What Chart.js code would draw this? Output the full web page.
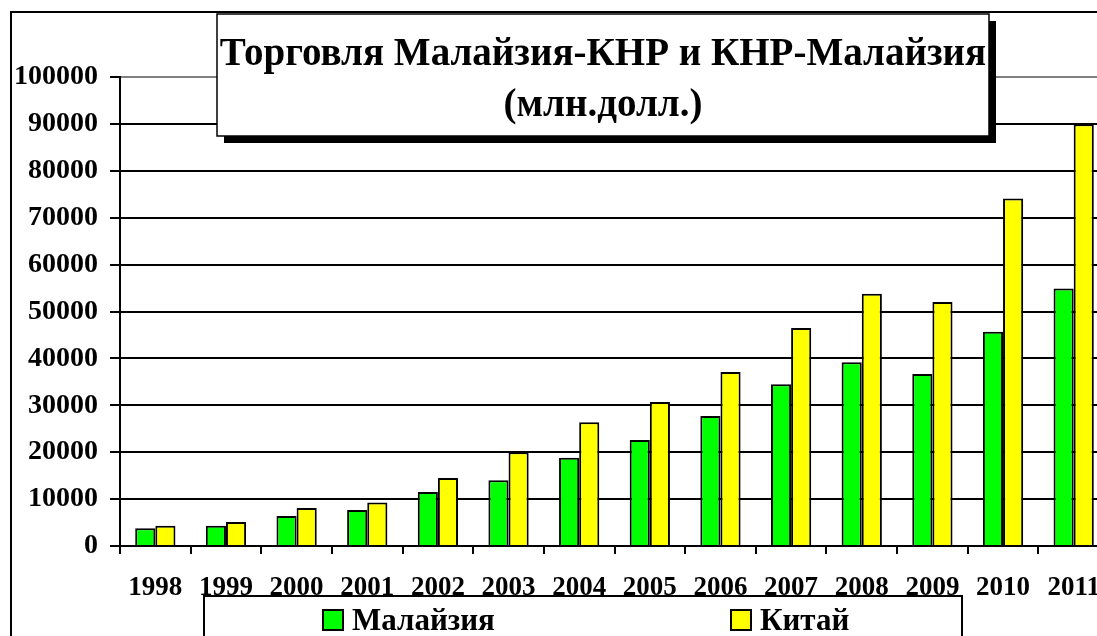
<!DOCTYPE html>
<html>
<head>
<meta charset="utf-8">
<script src="https://cdn.jsdelivr.net/npm/chart.js@4/dist/chart.umd.min.js"></script>
<style>
    html, body { margin: 0; padding: 0; background: #fff; overflow: hidden; }
    #wrap { width: 1109px; height: 636px; }
</style>
</head>
<body>
<div id="wrap"><canvas id="tradeChart" width="1109" height="636"></canvas></div>
<script>
// Chart data (млн. долл.)
const years = ['1998', '1999', '2000', '2001', '2002', '2003', '2004', '2005', '2006', '2007', '2008', '2009', '2010', '2011'];
const malaysia = [3800, 4300, 6400, 7700, 11500, 14000, 18800, 22600, 27700, 34500, 39200, 36700, 45700, 54900];
const china = [4300, 5100, 8100, 9300, 14500, 20000, 26400, 30700, 37100, 46500, 53800, 52000, 74100, 89900];
const titleLines = ['Торговля Малайзия-КНР и КНР-Малайзия', '(млн.долл.)'];

const FONT = '"Liberation Serif", "Times New Roman", serif';

// Frame, title box and legend box drawn around the chart
const decorPlugin = {
    id: 'decor',
    beforeDraw(chart) {
        const c = chart.ctx;
        c.save();
        c.fillStyle = '#fff';
        c.fillRect(0, 0, chart.width, chart.height);
        c.strokeStyle = '#000';
        c.lineWidth = 2;
        c.strokeRect(11, 12, chart.width + 50, chart.height + 50);
        // legend box
        c.fillStyle = '#fff';
        c.fillRect(204, 596, 758, 60);
        c.strokeRect(204, 596, 758, 60);
        const items = [
            { x: 323, ds: chart.data.datasets[0] },
            { x: 731, ds: chart.data.datasets[1] },
        ];
        c.font = 'bold 31px ' + FONT;
        c.textBaseline = 'alphabetic';
        c.textAlign = 'left';
        items.forEach(it => {
            c.fillStyle = it.ds.backgroundColor;
            c.fillRect(it.x, 610, 20, 20);
            c.lineWidth = 2;
            c.strokeRect(it.x, 610, 20, 20);
            c.fillStyle = '#000';
            c.fillText(it.ds.label, it.x + 29, 630);
        });
        c.restore();
    },
    afterDraw(chart) {
        const c = chart.ctx;
        c.save();
        // shadow
        c.fillStyle = '#000';
        c.fillRect(224, 21, 772, 122);
        c.fillStyle = '#fff';
        c.fillRect(217, 14, 772, 122);
        c.strokeStyle = '#000';
        c.lineWidth = 1.5;
        c.strokeRect(217, 14, 772, 122);
        c.fillStyle = '#000';
        c.font = 'bold 39px ' + FONT;
        c.textAlign = 'center';
        c.textBaseline = 'alphabetic';
        c.fillText(titleLines[0], 603, 65);
        c.fillText(titleLines[1], 603, 116);
        c.restore();
    }
};

const ctx = document.getElementById('tradeChart').getContext('2d');
const tradeChart = new Chart(ctx, {
    type: 'bar',
    data: {
        labels: years,
        datasets: [
            {
                label: 'Малайзия',
                data: malaysia,
                backgroundColor: '#00ff00',
                borderColor: '#000',
                borderWidth: 2,
                categoryPercentage: 0.57,
                barPercentage: 1.0,
            },
            {
                label: 'Китай',
                data: china,
                backgroundColor: '#ffff00',
                borderColor: '#000',
                borderWidth: 2,
                categoryPercentage: 0.57,
                barPercentage: 1.0,
            },
        ],
    },
    options: {
        responsive: false,
        animation: false,
        layout: { padding: { left: 0, top: 77, right: 0, bottom: 0 } },
        plugins: {
            legend: { display: false },
            title: { display: false },
            tooltip: { enabled: false },
        },
        scales: {
            x: {
                afterFit: (scale) => {
                    scale.height = 90;
                    scale.paddingLeft = 0;
                    scale.paddingRight = 0;
                },
                border: { color: '#000', width: 2 },
                grid: {
                    offset: true,
                    drawOnChartArea: false,
                    drawTicks: true,
                    tickLength: 8,
                    color: '#000',
                    lineWidth: 2,
                },
                ticks: {
                    color: '#000',
                    font: { family: FONT, size: 27, weight: 'bold' },
                    padding: 18,
                    maxRotation: 0,
                    autoSkip: false,
                },
            },
            y: {
                min: 0,
                max: 100000,
                afterFit: (scale) => { scale.width = 120; },
                border: { color: '#000', width: 2 },
                grid: {
                    color: (c) => (c.tick && c.tick.value === 100000 ? '#808080' : '#000'),
                    tickColor: '#000',
                    lineWidth: 2,
                    tickLength: 10,
                },
                ticks: {
                    stepSize: 10000,
                    color: '#000',
                    padding: 12,
                    font: { family: FONT, size: 28, weight: 'bold' },
                    callback: (v) => String(v),
                },
            },
        },
    },
    plugins: [decorPlugin],
});
</script>
</body>
</html>
